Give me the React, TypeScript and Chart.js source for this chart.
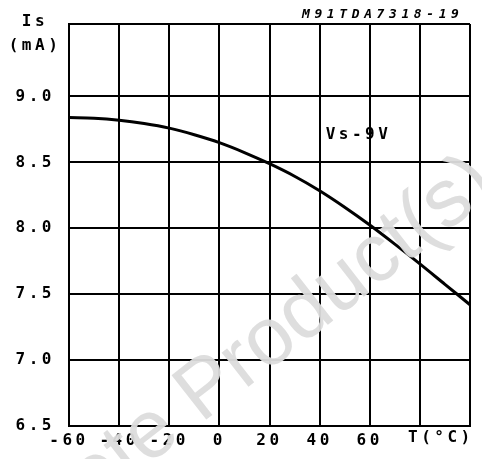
import React, { useEffect, useRef } from "react";
import { Chart, registerables } from "chart.js";

Chart.register(...registerables);

const temperatures = [-60, -50, -40, -30, -20, -10, 0, 10, 20, 30, 40, 50, 60, 70, 80, 90, 100];
const supplyCurrent = [8.84, 8.835, 8.82, 8.795, 8.76, 8.71, 8.65, 8.575, 8.49, 8.395, 8.285, 8.16, 8.025, 7.88, 7.73, 7.575, 7.42];
const xTickValues = [-60, -40, -20, 0, 20, 40, 60, 80, 100];
const xTickLabels = ["-60", "-40", "-20", "0", "20", "40", "60", "", ""];
const yTickValues = [6.5, 7.0, 7.5, 8.0, 8.5, 9.0, 9.55];
const yTickLabels = ["6.5", "7.0", "7.5", "8.0", "8.5", "9.0", ""];
const yAxisTitle = ["Is", "(mA)"];
const xAxisTitle = "T(°C)";
const curveLabel = "Vs-9V";
const figureCode = "M91TDA7318-19";
const watermark = "Obsolete Product(s)";

const MONO = "'DejaVu Sans Mono', monospace";

const decorPlugin = {
  id: "decor",
  beforeLayout(chart: any) {
    chart.ctx.letterSpacing = "3.5px";
  },
  beforeDraw(chart: any) {
    chart.ctx.letterSpacing = "3.5px";
  },
  afterDraw(chart: any) {
    const ctx = chart.ctx;
    const x = chart.scales.x;
    const y = chart.scales.y;
    ctx.save();
    ctx.fillStyle = "#000";
    ctx.font = `600 16px ${MONO}`;
    ctx.letterSpacing = "3.5px";
    ctx.textAlign = "center";
    ctx.textBaseline = "middle";
    ctx.fillText(yAxisTitle[0], 35, 22);
    ctx.fillText(yAxisTitle[1], 35, 46);
    ctx.textAlign = "left";
    ctx.fillText(xAxisTitle, 408, 438);
    ctx.fillText(curveLabel, x.getPixelForValue(40) + 6, y.getPixelForValue(8.71));
    ctx.font = `italic bold 13px ${MONO}`;
    ctx.letterSpacing = "4.6px";
    ctx.textBaseline = "alphabetic";
    ctx.fillText(figureCode, 302, 18);
    ctx.restore();

    ctx.save();
    ctx.letterSpacing = "0px";
    ctx.fillStyle = "rgba(220,220,220,0.95)";
    ctx.font = "82px 'Liberation Sans', Arial, sans-serif";
    ctx.translate(499, 191);
    ctx.rotate((-38 * Math.PI) / 180);
    ctx.textAlign = "right";
    ctx.textBaseline = "alphabetic";
    ctx.fillText(watermark, 0, 0);
    ctx.restore();
  },
};

export default function App() {
  const canvasRef = useRef<HTMLCanvasElement | null>(null);

  useEffect(() => {
    if (!canvasRef.current) return;
    Chart.defaults.font.family = MONO;
    Chart.defaults.font.size = 16;
    Chart.defaults.color = "#000";
    const chart = new Chart(canvasRef.current, {
      type: "line",
      data: {
        datasets: [
          {
            data: temperatures.map((t, i) => ({ x: t, y: supplyCurrent[i] })),
            borderColor: "#000",
            borderWidth: 3,
            pointRadius: 0,
            cubicInterpolationMode: "monotone",
            fill: false,
          },
        ],
      },
      options: {
        animation: false,
        responsive: false,
        maintainAspectRatio: false,
        layout: { padding: { top: 24, right: 12, left: 0, bottom: 0 } },
        plugins: { legend: { display: false }, tooltip: { enabled: false } },
        scales: {
          x: {
            type: "linear",
            min: -60,
            max: 100,
            afterBuildTicks: (scale: any) => {
              scale.ticks = xTickValues.map((v) => ({ value: v }));
            },
            afterFit: (scale: any) => {
              scale.height = 33;
            },
            ticks: {
              padding: 5,
              maxRotation: 0,
              autoSkip: false,
              font: { weight: "600" },
              callback: (value: any) => {
                const i = xTickValues.indexOf(Number(value));
                return i >= 0 ? xTickLabels[i] : "";
              },
            },
            grid: { color: "#000", lineWidth: 2, drawTicks: false },
            border: { display: true, color: "#000", width: 2 },
          },
          y: {
            type: "linear",
            min: 6.5,
            max: 9.55,
            afterBuildTicks: (scale: any) => {
              scale.ticks = yTickValues.map((v) => ({ value: v }));
            },
            afterFit: (scale: any) => {
              scale.width = 69;
            },
            ticks: {
              padding: 14,
              autoSkip: false,
              font: { weight: "600" },
              callback: (value: any) => {
                const i = yTickValues.indexOf(Number(value));
                return i >= 0 ? yTickLabels[i] : "";
              },
            },
            grid: { color: "#000", lineWidth: 2, drawTicks: false },
            border: { display: true, color: "#000", width: 2 },
          },
        },
      },
      plugins: [decorPlugin],
    } as any);
    return () => chart.destroy();
  }, []);

  return (
    <div style={{ position: "absolute", left: 0, top: 0, width: 482, height: 459, background: "#fff" }}>
      <canvas ref={canvasRef} width={482} height={459} />
    </div>
  );
}
